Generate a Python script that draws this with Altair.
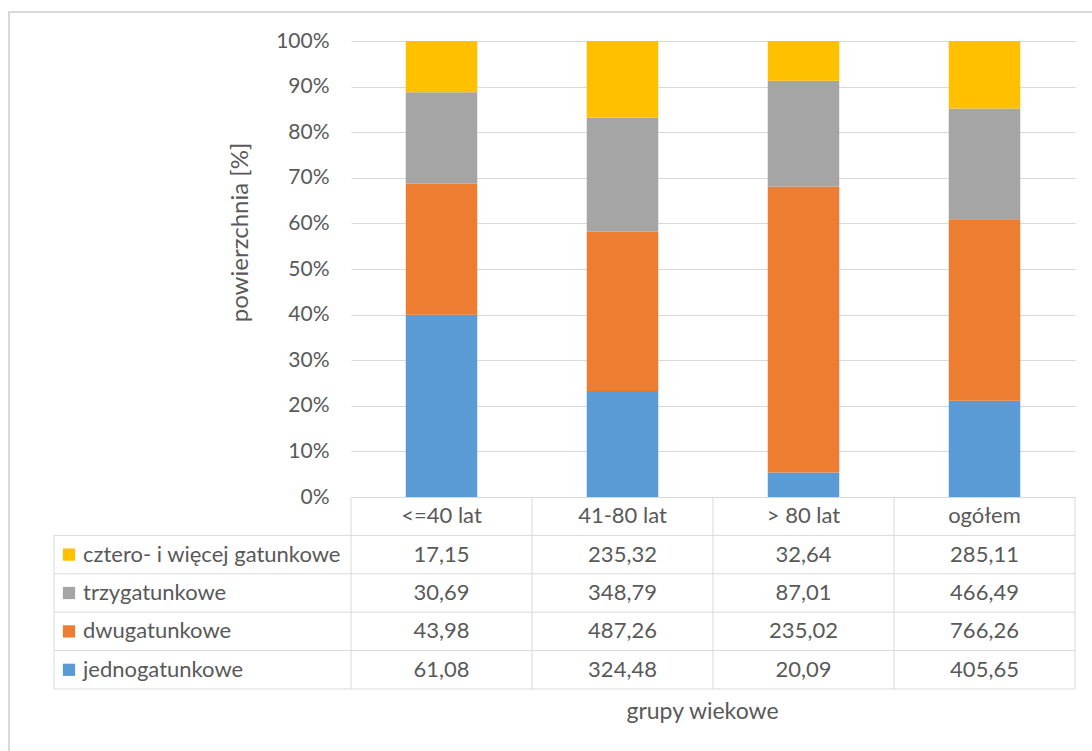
import altair as alt
import pandas as pd

groups = ["<=40 lat", "41-80 lat", "> 80 lat", "ogółem"]
series = ["jednogatunkowe", "dwugatunkowe", "trzygatunkowe", "cztero- i więcej gatunkowe"]
jedno = [61.08, 324.48, 20.09, 405.65]
dwu = [43.98, 487.26, 235.02, 766.26]
trzy = [30.69, 348.79, 87.01, 466.49]
cztero = [17.15, 235.32, 32.64, 285.11]
colors = ["#5B9BD5", "#ED7D31", "#A5A5A5", "#FFC000"]
y_ticks = [0, 0.1, 0.2, 0.3, 0.4, 0.5, 0.6, 0.7, 0.8, 0.9, 1.0]

FONT = "Lato"
FS_TICK = 21
FS_TAB = 22
FS_TITLE = 24
TXT = "#595959"
LINE = "#D9D9D9"

values = [jedno, dwu, trzy, cztero]
rows_long = []
for si, (s, vals) in enumerate(zip(series, values)):
    for g, v in zip(groups, vals):
        rows_long.append({"grupa": g, "seria": s, "wartosc": v, "kolejnosc": si,
                          "txt": f"{v:.2f}".replace(".", ",")})
df = pd.DataFrame(rows_long)

HDR = "__hdr"
table_rows = [HDR] + series[::-1]

W, H_BAR, H_TAB = 724, 456, 192

xs = alt.Scale(domain=groups, paddingInner=0, paddingOuter=0)
xaxis = alt.Axis(labels=False, ticks=False, domain=False, grid=False,
                 title="grupy wiekowe", titleFont=FONT, titleFontSize=FS_TITLE - 1,
                 titleFontWeight="normal", titleColor=TXT,
                 titleX=351, titleY=22, titleBaseline="middle")
ys_tab = alt.Scale(domain=table_rows, range=[H_BAR, H_BAR + H_TAB],
                   paddingInner=0, paddingOuter=0)

color = alt.Color("seria:N", scale=alt.Scale(domain=series, range=colors), legend=None)

frame = alt.Chart(pd.DataFrame({"a": [0]})).mark_rect(
    fillOpacity=0, stroke=LINE, strokeWidth=2
).encode(x=alt.value(-342), x2=alt.value(1300), y=alt.value(-29), y2=alt.value(1000))

bars = alt.Chart(df).mark_bar(width=alt.RelativeBandSize(0.395)).encode(
    x=alt.X("grupa:N", scale=xs, axis=xaxis),
    y=alt.Y("wartosc:Q", stack="normalize",
            scale=alt.Scale(domain=[0, 1], range=[H_BAR, 0], nice=False),
            axis=alt.Axis(values=y_ticks, format=".0%", grid=True, gridColor=LINE,
                          ticks=False, domain=False, labelPadding=22,
                          labelFont=FONT, labelFontSize=FS_TICK, labelColor=TXT,
                          title="powierzchnia [%]", titleFont=FONT, titleFontSize=FS_TITLE,
                          titleFontWeight="normal", titleColor=TXT,
                          titleAngle=-90, titleX=-111, titleY=191,
                          titleBaseline="middle", titleAlign="center")),
    color=color,
    order=alt.Order("kolejnosc:Q"),
)

# horizontal table lines
hl_df = pd.DataFrame({"row": series[::-1]})
hlines = alt.Chart(hl_df).mark_rule(color=LINE, strokeWidth=1).encode(
    y=alt.Y("row:N", scale=ys_tab, axis=None, bandPosition=0),
    x=alt.value(-297), x2=alt.value(W),
)
hbottom = alt.Chart(pd.DataFrame({"row": [series[0]]})).mark_rule(color=LINE, strokeWidth=1).encode(
    y=alt.Y("row:N", scale=ys_tab, axis=None, bandPosition=1),
    x=alt.value(-297), x2=alt.value(W),
)
# vertical table lines
vl_df = pd.DataFrame({"grupa": groups})
vlines = alt.Chart(vl_df).mark_rule(color=LINE, strokeWidth=1).encode(
    x=alt.X("grupa:N", scale=xs, axis=xaxis, bandPosition=0),
    y=alt.value(H_BAR), y2=alt.value(H_BAR + H_TAB),
)
vlast = alt.Chart(pd.DataFrame({"grupa": [groups[-1]]})).mark_rule(color=LINE, strokeWidth=1).encode(
    x=alt.X("grupa:N", scale=xs, axis=xaxis, bandPosition=1),
    y=alt.value(H_BAR), y2=alt.value(H_BAR + H_TAB),
)
vleft = alt.Chart(pd.DataFrame({"row": [series[-1]]})).mark_rule(color=LINE, strokeWidth=1).encode(
    y=alt.Y("row:N", scale=ys_tab, axis=None, bandPosition=0),
    y2=alt.value(H_BAR + H_TAB),
    x=alt.value(-297),
)

# table cells
hdr_df = pd.DataFrame({"grupa": groups, "row": [HDR] * 4, "txt": groups})
cell_df = pd.concat([hdr_df, df.rename(columns={"seria": "row"})[["grupa", "row", "txt"]]])
cells = alt.Chart(cell_df).mark_text(font=FONT, fontSize=FS_TAB, color=TXT, baseline="middle").encode(
    x=alt.X("grupa:N", scale=xs, axis=xaxis),
    y=alt.Y("row:N", scale=ys_tab, axis=None),
    text="txt:N",
)

lab_df = pd.DataFrame({"seria": series, "row": series})
row_labels = alt.Chart(lab_df).mark_text(font=FONT, fontSize=FS_TAB, color=TXT,
                                         align="left", baseline="middle").encode(
    y=alt.Y("row:N", scale=ys_tab, axis=None),
    x=alt.value(-268),
    text="seria:N",
)
squares = alt.Chart(lab_df).mark_square(size=150, opacity=1).encode(
    y=alt.Y("row:N", scale=ys_tab, axis=None),
    x=alt.value(-282),
    color=color,
)

chart = alt.layer(
    frame, bars, hlines, hbottom, vlines, vlast, vleft, cells, row_labels, squares
).resolve_scale(y="independent").properties(
    width=W, height=H_BAR + H_TAB,
    autosize=alt.AutoSizeParams(type="none"),
    padding={"left": 351, "top": 41, "right": 17, "bottom": 62},
    background="white",
).configure_view(strokeWidth=0)

chart.save("out.html", embed_options={"renderer": "svg", "actions": False})
